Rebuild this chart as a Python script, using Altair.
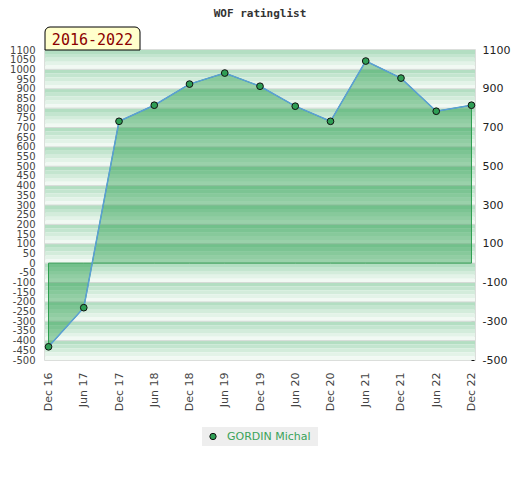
import altair as alt
import pandas as pd

# ---- data ----
dates = ["Dec 16", "Jun 17", "Dec 17", "Jun 18", "Dec 18", "Jun 19", "Dec 19",
         "Jun 20", "Dec 20", "Jun 21", "Dec 21", "Jun 22", "Dec 22"]
ratings = [-432, -230, 732, 815, 924, 981, 913, 810, 732, 1043, 955, 784, 815]
player = "GORDIN Michal"
period = "2016-2022"
title = "WOF ratinglist"
left_ticks = list(range(-500, 1101, 50))
right_ticks = list(range(-500, 1101, 100))

df = pd.DataFrame({"date": dates, "rating": ratings})

# ---- decorative striped background ----
stripe_colors = ["#b3dec2", "#c3e5cf", "#d3ecdb", "#e3f3e8", "#f1f9f3"]
bg_rows = []
for b in range(-500, 1100, 100):
    for i, c in enumerate(stripe_colors):
        bg_rows.append({"y1": b + 100 - i * 20, "y2": b + 100 - (i + 1) * 20, "c": c})
bg = pd.DataFrame(bg_rows)
grid = pd.DataFrame({"g": list(range(-400, 1100, 100))})

W, H = 430, 310
yscale = alt.Scale(domain=[-500, 1100], nice=False, zero=False)
X = alt.X("date:N", sort=dates, scale=alt.Scale(type="point", padding=0.1),
          axis=alt.Axis(title=None, labelAngle=270, ticks=False, domain=False,
                        labelPadding=12, labelFont="DejaVu Sans", labelFontSize=11,
                        labelColor="#444"))

bg_layer = alt.Chart(bg).mark_rect().encode(
    x=alt.value(0), x2=alt.value(W),
    y=alt.Y("y1:Q", scale=yscale, axis=None), y2="y2:Q",
    fill=alt.Color("c:N", scale=None),
)
grid_layer = alt.Chart(grid).mark_rule(color="#d5dad6", strokeWidth=1).encode(
    x=alt.value(0), x2=alt.value(W),
    y=alt.Y("g:Q", scale=yscale, axis=None),
)

area = alt.Chart(df).mark_area(
    fill="#008a2a", fillOpacity=0.36, stroke="#2e9e50", strokeWidth=1
).encode(
    x=X,
    y=alt.Y("rating:Q", scale=yscale,
            axis=alt.Axis(title=None, values=left_ticks, labelExpr="'' + datum.value",
                          tickSize=0, domain=False, grid=False, labelOverlap=False,
                          labelPadding=10, labelFont="DejaVu Sans",
                          labelFontSize=10, labelColor="#444")),
    y2=alt.datum(0),
)
line = alt.Chart(df).mark_line(color="#5b9fd6", strokeWidth=1.5).encode(
    x=X, y=alt.Y("rating:Q", scale=yscale, axis=None)
)
points = alt.Chart(df).mark_point(
    shape="circle", filled=True, fill="#2f9e55", stroke="#111", strokeWidth=1,
    size=45, opacity=1
).encode(
    x=X,
    y=alt.Y("rating:Q", scale=yscale,
            axis=alt.Axis(title=None, orient="right", values=right_ticks,
                          labelExpr="(datum.value + 500) % 200 == 0 ? '' + datum.value : ''",
                          tickSize=3, tickColor="#111", offset=-4, domain=False,
                          grid=False, labelOverlap=False, labelPadding=8,
                          labelFont="DejaVu Sans", labelFontSize=11,
                          labelColor="#222")),
)

one = pd.DataFrame({"k": [0]})
title_layer = alt.Chart(one).mark_text(
    text=title, font="DejaVu Sans Mono", fontWeight="bold", fontSize=11,
    color="#333", align="center", baseline="middle"
).encode(x=alt.value(W / 2), y=alt.value(-36))

tag_box = alt.Chart(one).mark_rect(
    fill="#ffffcc", stroke="#000", strokeWidth=1,
    cornerRadiusTopLeft=5, cornerRadiusTopRight=5
).encode(x=alt.value(0), x2=alt.value(95), y=alt.value(-23), y2=alt.value(0))
tag_text = alt.Chart(one).mark_text(
    text=period, font="DejaVu Sans Mono", fontSize=15, color="#8b0000",
    align="center", baseline="middle"
).encode(x=alt.value(47.5), y=alt.value(-10.5))

leg_box = alt.Chart(one).mark_rect(fill="#eeeeee").encode(
    x=alt.value(157), x2=alt.value(273), y=alt.value(377), y2=alt.value(396)
)
leg_dot = alt.Chart(one).mark_point(
    shape="circle", filled=True, fill="#2f9e55", stroke="#111", strokeWidth=1,
    size=40, opacity=1
).encode(x=alt.value(168), y=alt.value(386.5))
leg_text = alt.Chart(one).mark_text(
    text=player, font="DejaVu Sans", fontSize=11, color="#3aa35a",
    align="left", baseline="middle"
).encode(x=alt.value(182), y=alt.value(386.5))

chart = alt.layer(
    bg_layer, grid_layer, area, line, points,
    title_layer, tag_box, tag_text, leg_box, leg_dot, leg_text
).resolve_axis(y="independent").properties(
    width=W, height=H,
    autosize=alt.AutoSizeParams(type="none"),
    padding={"left": 37, "top": 42, "right": 37, "bottom": 110},
).configure_view(stroke="#cfd3d0", strokeWidth=1.5)

chart.save("out.html", embed_options={"renderer": "svg", "actions": False})
